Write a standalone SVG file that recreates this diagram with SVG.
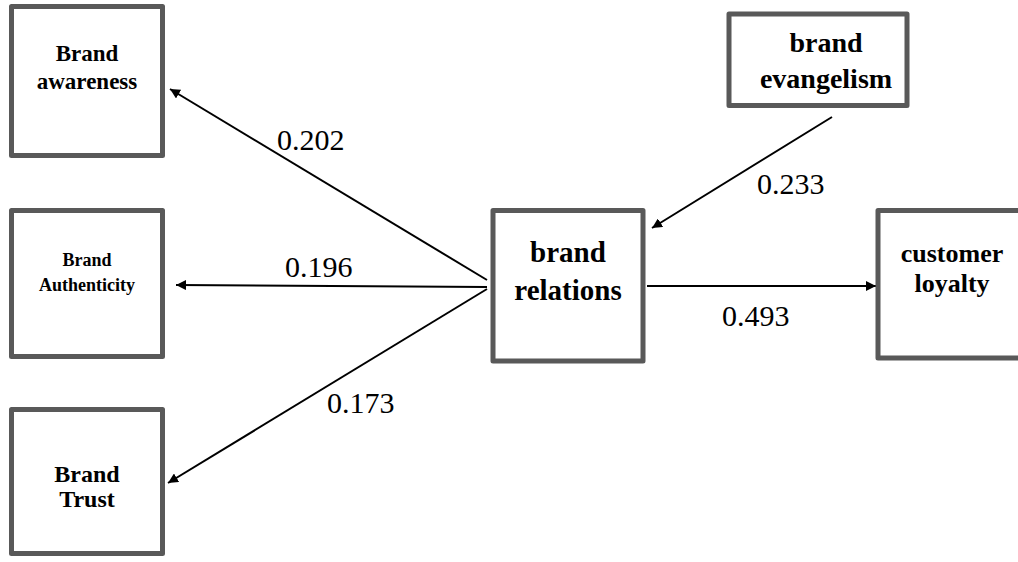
<svg xmlns="http://www.w3.org/2000/svg" width="1018" height="562" viewBox="0 0 1018 562">
<style>
.box{fill:#fff;stroke:#595959;stroke-width:5;stroke-linejoin:round}
.t{font-family:"Liberation Serif","Times New Roman",serif;font-weight:bold;fill:#000;text-anchor:middle}
.lbl{font-family:"Liberation Serif","Times New Roman",serif;font-size:30px;fill:#000}
.c{stroke:#000;stroke-width:2;fill:none;marker-end:url(#ah)}
</style>
<defs>
<marker id="ah" viewBox="0 0 10 10" refX="10" refY="5" markerWidth="10" markerHeight="10" markerUnits="userSpaceOnUse" orient="auto">
<path d="M0,0 L10,5 L0,10 z" fill="#000"/>
</marker>
</defs>
<rect width="1018" height="562" fill="#fff"/>
<g id="connectors">
<line class="c" x1="487" y1="280" x2="170" y2="89"/>
<line class="c" x1="487" y1="287" x2="176" y2="285"/>
<line class="c" x1="487" y1="289" x2="168" y2="483"/>
<line class="c" x1="832" y1="117" x2="652" y2="228"/>
<line class="c" x1="647" y1="286" x2="876" y2="286"/>
</g>
<g id="labels">
<text class="lbl" x="277" y="150">0.202</text>
<text class="lbl" x="285" y="277">0.196</text>
<text class="lbl" x="327" y="413">0.173</text>
<text class="lbl" x="757" y="194">0.233</text>
<text class="lbl" x="722" y="326">0.493</text>
</g>
<g id="brand-awareness">
<rect class="box" x="11.5" y="6.5" width="151" height="149"/>
<text class="t" x="87" y="61" font-size="23">Brand</text>
<text class="t" x="87" y="89" font-size="23">awareness</text>
</g>
<g id="brand-authenticity">
<rect class="box" x="11.5" y="210.5" width="151" height="146"/>
<text class="t" x="87" y="266" font-size="18">Brand</text>
<text class="t" x="87" y="291" font-size="18">Authenticity</text>
</g>
<g id="brand-trust">
<rect class="box" x="11.5" y="409.5" width="151" height="144"/>
<text class="t" x="87" y="482" font-size="24">Brand</text>
<text class="t" x="87" y="507" font-size="24">Trust</text>
</g>
<g id="brand-relations">
<rect class="box" x="493" y="210.5" width="150" height="150.5"/>
<text class="t" x="568" y="262" font-size="29">brand</text>
<text class="t" x="568" y="300" font-size="29">relations</text>
</g>
<g id="brand-evangelism">
<rect class="box" x="729" y="14" width="178" height="91.5"/>
<text class="t" x="826" y="52" font-size="28">brand</text>
<text class="t" x="826" y="88" font-size="28">evangelism</text>
</g>
<g id="customer-loyalty">
<rect class="box" x="878" y="210.5" width="150" height="147.5"/>
<text class="t" x="952" y="262" font-size="26">customer</text>
<text class="t" x="952" y="292" font-size="26">loyalty</text>
</g>
</svg>
